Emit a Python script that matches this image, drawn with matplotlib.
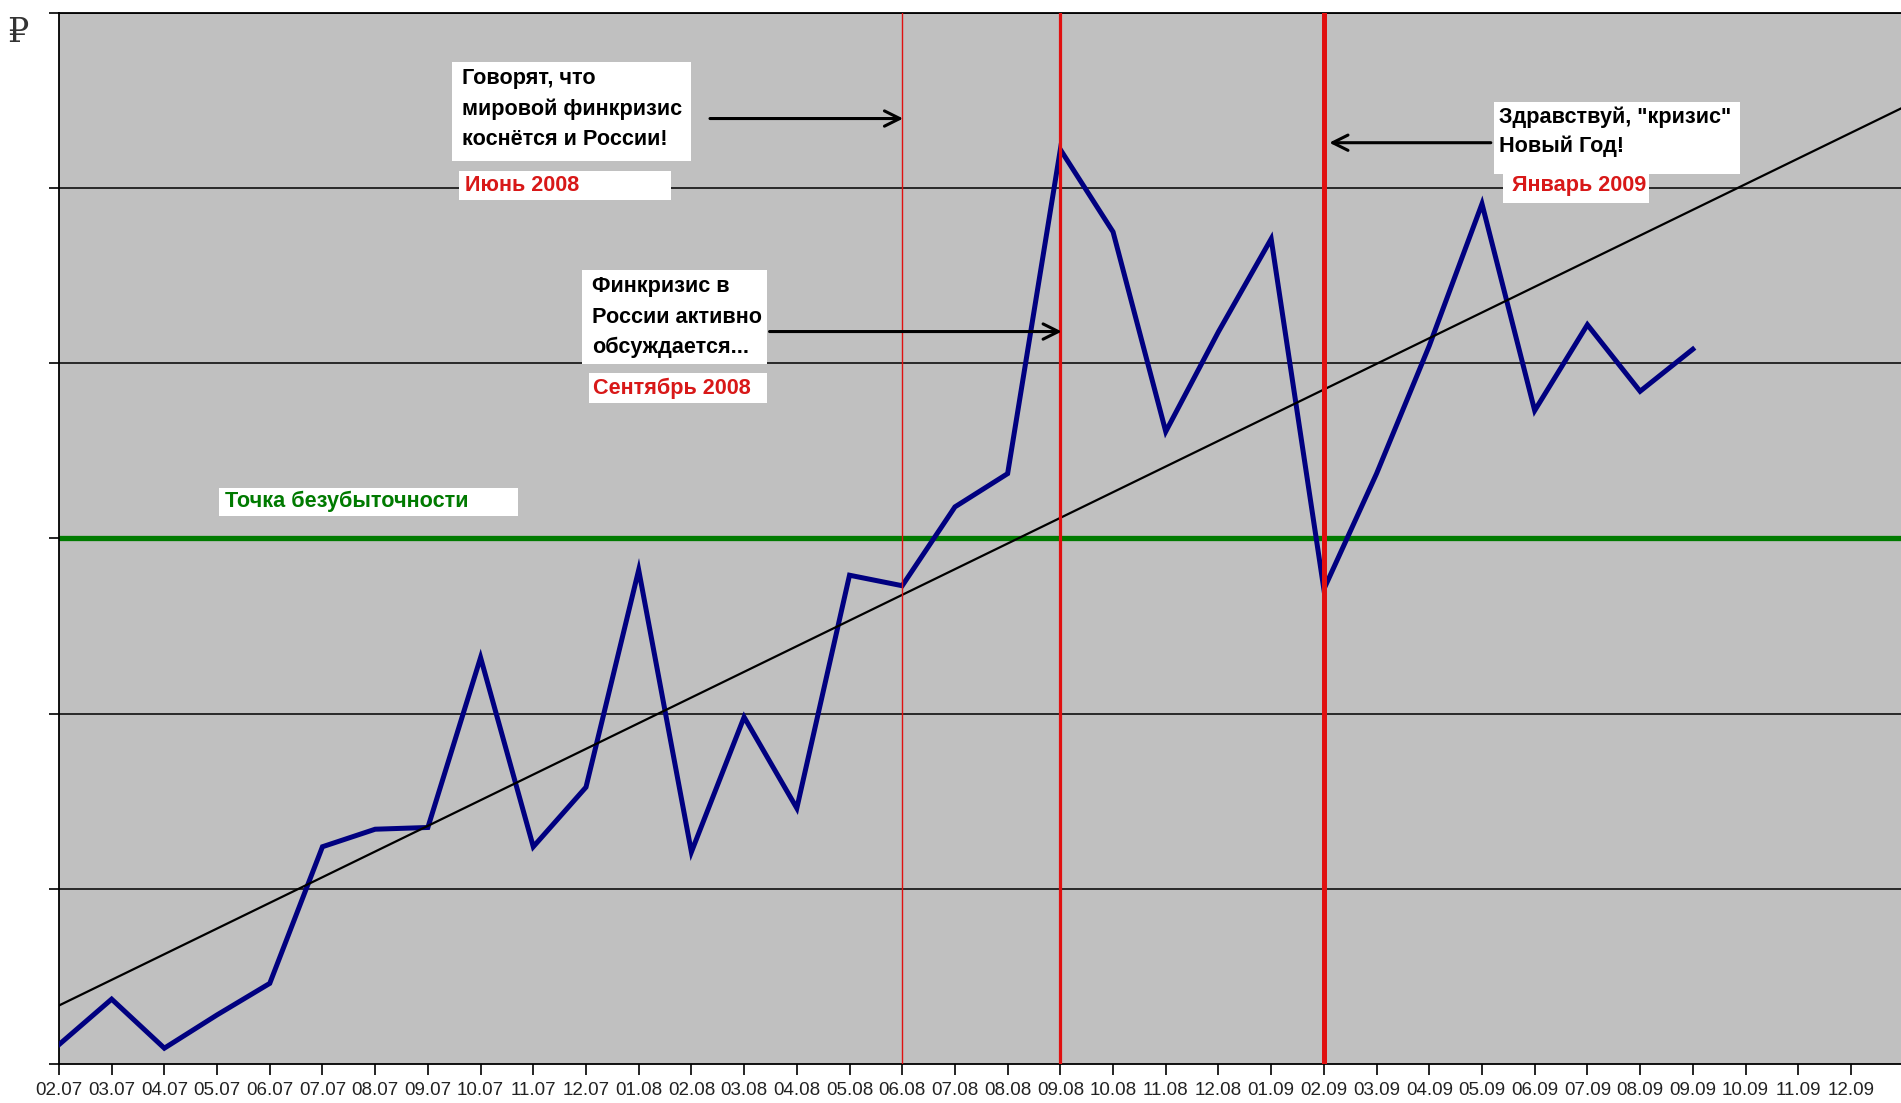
import numpy as np
import matplotlib
matplotlib.use('Agg')
import matplotlib.pyplot as plt
from matplotlib.patches import Rectangle

# months on the category axis
months = ['02.07', '03.07', '04.07', '05.07', '06.07', '07.07', '08.07', '09.07',
          '10.07', '11.07', '12.07', '01.08', '02.08', '03.08', '04.08', '05.08',
          '06.08', '07.08', '08.08', '09.08', '10.08', '11.08', '12.08', '01.09',
          '02.09', '03.09', '04.09', '05.09', '06.09', '07.09', '08.09', '09.09',
          '10.09', '11.09', '12.09']

# revenue in grid units (values known only up to 09.09)
revenue = [0.11, 0.37, 0.09, 0.28, 0.46, 1.24, 1.34, 1.35, 2.32, 1.24, 1.58,
           2.82, 1.21, 1.98, 1.46, 2.79, 2.73, 3.18, 3.37, 5.22, 4.75, 3.61,
           4.18, 4.71, 2.71, 3.37, 4.10, 4.91, 3.73, 4.22, 3.84, 4.08]

breakeven = 3.0
grid_levels = [1, 2, 4, 5, 6]

# events: month, line width
events = [('06.08', 1.0), ('09.08', 2.3), ('02.09', 3.6)]

plt.rcParams['font.family'] = ['Liberation Sans', 'DejaVu Sans']

fig = plt.figure(figsize=(19.01, 11.03), dpi=100)
ax = fig.add_axes([0.031, 0.0354, 0.969, 0.9529])
ax.set_facecolor('#c0c0c0')

x = np.arange(len(revenue))
xlim = (0, 34.95)
ax.set_xlim(*xlim)
ax.set_ylim(0, 6)

for g in grid_levels:
    ax.axhline(g, color='black', lw=1.1, zorder=1)
ax.axhline(breakeven, color='#007a00', lw=3.8, zorder=2)

ax.plot(x, revenue, color='#000080', lw=3.6, zorder=3, solid_joinstyle='miter')

# linear trend, extended forward
k, b = np.polyfit(x, revenue, 1)
tx = np.array([0, xlim[1] + 1])
ax.plot(tx, k * tx + b, color='black', lw=1.6, zorder=4)

for m, w in events:
    ax.axvline(months.index(m), color='#e01010', lw=w, zorder=5)

ax.set_xticks(np.arange(len(months)))
ax.set_xticklabels(months, fontsize=13.5, color='#222222')
ax.set_yticks(range(0, 7))
ax.set_yticklabels([''] * 7)
ax.tick_params(axis='x', direction='out', length=8, width=1.2, pad=5)
ax.tick_params(axis='y', direction='out', length=7, width=1.2)
ax.spines['right'].set_visible(False)
for s in ['left', 'bottom', 'top']:
    ax.spines[s].set_linewidth(1.3)


def box(x0, x1, y0, y1):
    ax.add_patch(Rectangle((x0, y0), x1 - x0, y1 - y0, facecolor='white',
                           edgecolor='none', zorder=6))


def arrow(x0, x1, y):
    ax.annotate('', xy=(x1, y), xytext=(x0, y), zorder=7,
                arrowprops=dict(arrowstyle='->,head_length=1.1,head_width=0.55',
                                color='black', lw=2.2))


tkw = dict(fontsize=15.6, fontweight='bold', ha='left', va='center', zorder=7)

box(7.45, 12.0, 5.155, 5.72)
for i, t in enumerate(['Говорят, что', 'мировой финкризис', 'коснётся и России!']):
    ax.text(7.655, 5.625 - i * 0.173, t, color='black', **tkw)
box(7.59, 11.61, 4.93, 5.10)
ax.text(7.70, 5.017, 'Июнь 2008', color='#d81818', **tkw)
arrow(12.3, 16.07, 5.397)

box(9.93, 13.43, 3.995, 4.534)
for i, t in enumerate(['Финкризис в', 'России активно', 'обсуждается...']):
    ax.text(10.11, 4.437 - i * 0.173, t, color='black', **tkw)
box(10.05, 13.43, 3.773, 3.946)
ax.text(10.14, 3.856, 'Сентябрь 2008', color='#d81818', **tkw)
arrow(13.43, 19.08, 4.181)

box(27.22, 31.89, 5.08, 5.494)
for i, t in enumerate(['Здравствуй, "кризис"', 'Новый Год!']):
    ax.text(27.33, 5.404 - i * 0.166, t, color='black', **tkw)
box(27.40, 30.16, 4.914, 5.10)
ax.text(27.56, 5.017, 'Январь 2009', color='#d81818', **tkw)
arrow(27.22, 24.05, 5.259)

box(3.03, 8.71, 3.13, 3.29)
ax.text(3.15, 3.214, 'Точка безубыточности', color='#007a00', **tkw)

fig.text(0.004, 0.97, '₽', fontsize=24, va='center', ha='left',
         family=['DejaVu Serif', 'DejaVu Sans'], color='#333333')

fig.savefig('out.png', dpi=100)
